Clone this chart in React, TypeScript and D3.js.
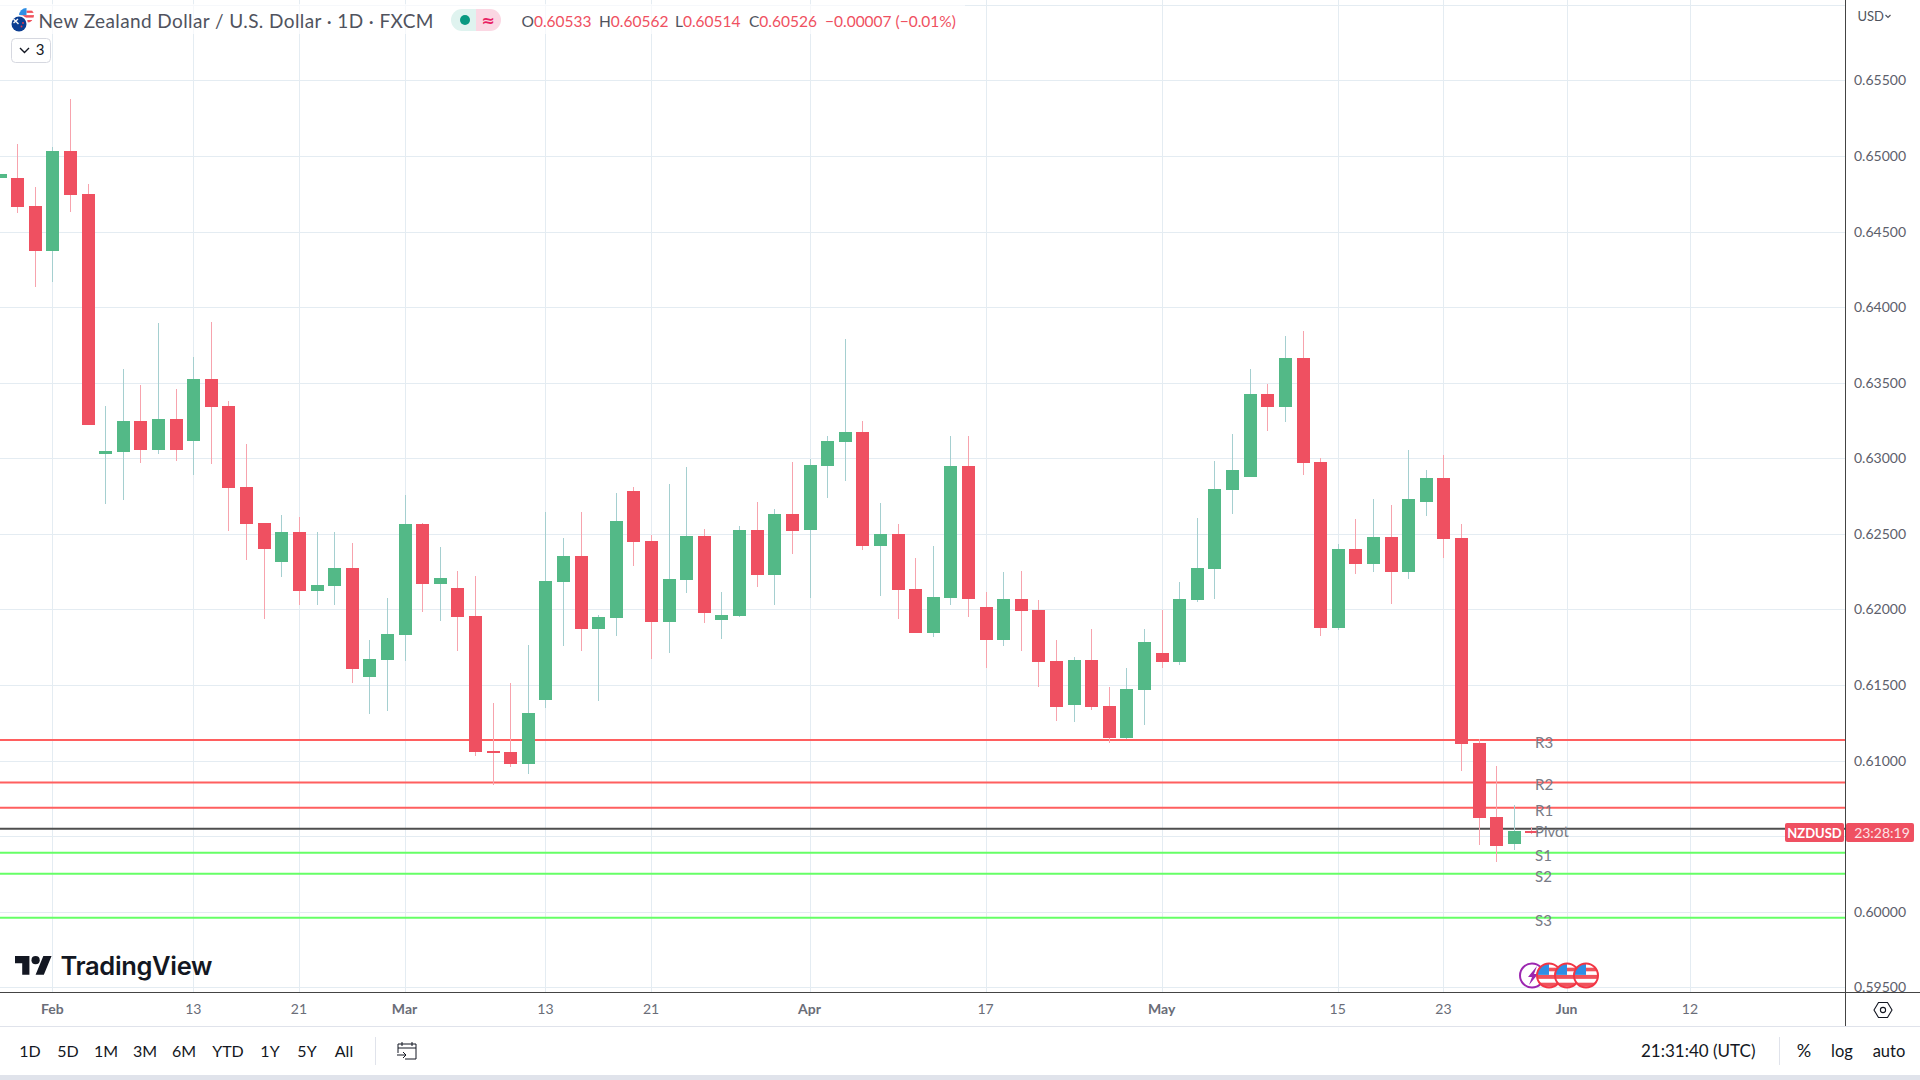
import { useEffect, useRef } from "react"
import * as d3 from "d3"

// bar index 0 is 1 Feb, one step per trading day
const firstBar = -3
const opens = [
  0.64857, 0.64855, 0.6467, 0.64372, 0.65034, 0.64749, 0.63029, 0.63043, 0.63248, 0.63056, 0.63261, 0.63115, 0.63525,
  0.63347, 0.62811, 0.62573, 0.62315, 0.62513, 0.62123, 0.62156, 0.62275, 0.61554, 0.61667, 0.61832, 0.62566, 0.62169,
  0.62143, 0.61958, 0.61065, 0.61058, 0.60979, 0.61402, 0.62183, 0.62355, 0.61872, 0.61944, 0.62785, 0.62454, 0.61918,
  0.62196, 0.62487, 0.61931, 0.61958, 0.62527, 0.62229, 0.62632, 0.62527, 0.6295, 0.63109, 0.63175, 0.62421, 0.625,
  0.62136, 0.61845, 0.62077, 0.6295, 0.62017, 0.61799, 0.6207, 0.61997, 0.6166, 0.61369, 0.61667, 0.61362, 0.61151,
  0.61468, 0.61713, 0.61653, 0.62063, 0.62268, 0.62791, 0.62877, 0.63426, 0.6334, 0.63664, 0.62976, 0.61878, 0.62401,
  0.62302, 0.6248, 0.62249, 0.62712, 0.6287, 0.62474, 0.61117, 0.60628, 0.60449, 0.60533,
]
const highs = [
  0.64882, 0.6508, 0.64795, 0.6506, 0.65378, 0.64815, 0.63347, 0.63592, 0.63486, 0.63896, 0.63459, 0.63669, 0.63902,
  0.6338, 0.63095, 0.62573, 0.62626, 0.62612, 0.62513, 0.62513, 0.6244, 0.61799, 0.62077, 0.62758, 0.62573, 0.62414,
  0.62255, 0.62222, 0.61382, 0.61514, 0.61766, 0.62646, 0.62474, 0.62646, 0.61964, 0.62771, 0.62811, 0.62493, 0.62831,
  0.62943, 0.62533, 0.62116, 0.62553, 0.62712, 0.62665, 0.62976, 0.62996, 0.63148, 0.6379, 0.63248, 0.62705, 0.62566,
  0.62341, 0.62421, 0.63148, 0.63148, 0.62116, 0.62249, 0.62255, 0.62063, 0.61799, 0.61686, 0.61872, 0.61488, 0.61614,
  0.61872, 0.61997, 0.62183, 0.62606, 0.62983, 0.63162, 0.63592, 0.63492, 0.6381, 0.63843, 0.63001, 0.62434, 0.62599,
  0.62732, 0.62692, 0.63056, 0.62923, 0.63023, 0.62566, 0.61144, 0.60965, 0.60707, 0.60562,
]
const lows = [
  0.64857, 0.64626, 0.64134, 0.64167, 0.6463, 0.63221, 0.62698, 0.62725, 0.6297, 0.63029, 0.62983, 0.6289, 0.62963,
  0.6252, 0.62328, 0.61938, 0.62216, 0.6203, 0.6203, 0.6203, 0.61514, 0.61309, 0.61329, 0.6166, 0.61984, 0.61925,
  0.61726, 0.61032, 0.6084, 0.60959, 0.60912, 0.61349, 0.61759, 0.61726, 0.61395, 0.61825, 0.62288, 0.61673, 0.61713,
  0.6211, 0.61911, 0.61806, 0.61951, 0.62149, 0.6203, 0.62368, 0.62077, 0.62738, 0.62851, 0.62394, 0.6209, 0.61938,
  0.61845, 0.61819, 0.6203, 0.61951, 0.61614, 0.61759, 0.61726, 0.61488, 0.61263, 0.61256, 0.61336, 0.61117, 0.61144,
  0.61237, 0.61614, 0.61633, 0.6205, 0.6207, 0.62632, 0.62877, 0.63181, 0.63241, 0.6289, 0.61825, 0.61865, 0.62236,
  0.62249, 0.62037, 0.62202, 0.62619, 0.62341, 0.60932, 0.60443, 0.6033, 0.6041, 0.60514,
]
const closes = [
  0.64882, 0.64663, 0.64372, 0.65034, 0.64743, 0.63221, 0.63049, 0.63248, 0.63056, 0.63261, 0.63056, 0.63525, 0.6334,
  0.62804, 0.62566, 0.62401, 0.62513, 0.62123, 0.62163, 0.62275, 0.61607, 0.61673, 0.61839, 0.62566, 0.62169, 0.62209,
  0.61951, 0.61058, 0.61051, 0.60979, 0.61316, 0.62189, 0.62355, 0.61872, 0.61951, 0.62586, 0.62447, 0.61918, 0.62202,
  0.62487, 0.61977, 0.61964, 0.62527, 0.62229, 0.62632, 0.6252, 0.62956, 0.63115, 0.63175, 0.62421, 0.625, 0.6213,
  0.61845, 0.62083, 0.6295, 0.6207, 0.61799, 0.6207, 0.61991, 0.61653, 0.61356, 0.61667, 0.61356, 0.61151, 0.61475,
  0.61786, 0.61653, 0.6207, 0.62275, 0.62798, 0.62923, 0.63426, 0.6334, 0.63664, 0.6297, 0.61878, 0.62401, 0.62302,
  0.6248, 0.62249, 0.62732, 0.6287, 0.62467, 0.61111, 0.60621, 0.60436, 0.60535, 0.60526,
]

const levelNames = ["R3", "R2", "R1", "Pivot", "S1", "S2", "S3"]
const levelValues = [0.61137, 0.60855, 0.60688, 0.60549, 0.6039, 0.60251, 0.5996]
const levelColors = ["#ff5f5f", "#ff5f5f", "#ff5f5f", "#4f4f4f", "#66ff66", "#66ff66", "#66ff66"]

const priceTicks = [0.595, 0.6, 0.605, 0.61, 0.615, 0.62, 0.625, 0.63, 0.635, 0.64, 0.645, 0.65, 0.655, 0.66]
const priceLabelTicks = priceTicks.filter((p) => p !== 0.605 && p !== 0.66)
const timeTickBars = [0, 8, 14, 20, 28, 34, 43, 53, 63, 73, 79, 86, 93]
const timeTickLabels = ["Feb", "13", "21", "Mar", "13", "21", "Apr", "17", "May", "15", "23", "Jun", "12"]
const monthLabels = ["Feb", "Mar", "Apr", "May", "Jun"]

const rangeLabels = ["1D", "5D", "1M", "3M", "6M", "YTD", "1Y", "5Y", "All"]
const rangeCenters = [30, 68, 106, 145, 184, 228, 270, 307, 344]
const ohlcLabels = ["O", "H", "L", "C"]
const ohlcValues = ["0.60533", "0.60562", "0.60514", "0.60526"]
const ohlcStarts = [521.5, 599, 675, 749]

const red = "#ef5061"
const green = "#53b987"
const font = "Lato, 'Open Sans', sans-serif"

export default function App() {
  const svgRef = useRef<SVGSVGElement>(null)

  useEffect(() => {
    if (!svgRef.current) return
    const svg = d3.select(svgRef.current)
    svg.selectAll("*").remove()

    const width = 1920
    const height = 1080
    const axisX = 1845
    const axisY = 992

    const x = d3.scaleLinear().domain([0, 93]).range([52.4, 1689.9])
    const y = d3.scaleLinear().domain([0.595, 0.655]).range([987.4, 80.4])

    svg.append("rect").attr("width", width).attr("height", height).attr("fill", "#fff")

    const defs = svg.append("defs")
    defs.append("clipPath").attr("id", "plot").append("rect").attr("width", axisX).attr("height", axisY)

    // Grid
    const grid = svg.append("g").attr("shape-rendering", "crispEdges").attr("stroke", "#e4ecf2")
    priceTicks.forEach((p) => {
      grid.append("line").attr("x1", 0).attr("x2", axisX).attr("y1", Math.round(y(p)) + 0.5).attr("y2", Math.round(y(p)) + 0.5)
    })
    timeTickBars.forEach((b) => {
      grid.append("line").attr("x1", Math.round(x(b)) + 0.5).attr("x2", Math.round(x(b)) + 0.5).attr("y1", 0).attr("y2", axisY)
    })

    // Pivot levels sit under the candles
    const plot = svg.append("g").attr("clip-path", "url(#plot)")
    levelValues.forEach((v, i) => {
      plot
        .append("line")
        .attr("x1", 0)
        .attr("x2", axisX)
        .attr("y1", y(v))
        .attr("y2", y(v))
        .attr("stroke", levelColors[i])
        .attr("stroke-width", 2)
    })

    // Candles
    const candles = plot.append("g").attr("shape-rendering", "crispEdges")
    opens.forEach((open, i) => {
      const cx = Math.round(x(firstBar + i))
      const up = closes[i] >= open
      const top = Math.round(y(Math.max(open, closes[i])))
      const bottom = Math.round(y(Math.min(open, closes[i])))
      candles
        .append("rect")
        .attr("x", cx)
        .attr("width", 1)
        .attr("y", Math.round(y(highs[i])))
        .attr("height", Math.round(y(lows[i])) - Math.round(y(highs[i])))
        .attr("fill", up ? "#a5cfd0" : "#f7a3ad")
      candles
        .append("rect")
        .attr("x", cx - 6)
        .attr("width", 13)
        .attr("y", top)
        .attr("height", Math.max(2, bottom - top))
        .attr("fill", up ? green : red)
    })

    // Level names
    levelNames.forEach((name, i) => {
      plot
        .append("text")
        .attr("x", 1535)
        .attr("y", y(levelValues[i]) + 2.5)
        .attr("dy", "0.35em")
        .attr("font-family", font)
        .attr("font-size", 15)
        .attr("fill", "#787b86")
        .text(name)
    })

    // Header backing fades the grid behind the legend
    svg.append("rect").attr("x", 0).attr("y", 4).attr("width", 965).attr("height", 30).attr("fill", "#fff").attr("opacity", 0.65)

    // Price axis
    const priceAxis = d3
      .axisRight(y)
      .tickValues(priceLabelTicks)
      .tickSize(0)
      .tickPadding(9)
      .tickFormat((d) => (d as number).toFixed(5))
    const priceG = svg.append("g").attr("transform", `translate(${axisX},0)`).call(priceAxis)
    priceG.select(".domain").remove()
    priceG.selectAll("text").attr("font-family", font).attr("font-size", 14).attr("fill", "#5d606b")

    // Time axis
    svg.append("rect").attr("x", 0).attr("y", axisY + 1).attr("width", width).attr("height", 88).attr("fill", "#fff")
    const timeAxis = d3
      .axisBottom(x)
      .tickValues(timeTickBars)
      .tickSize(0)
      .tickPadding(12)
      .tickFormat((_, i) => timeTickLabels[i])
    const timeG = svg.append("g").attr("transform", `translate(-0.5,${axisY})`).call(timeAxis)
    timeG.select(".domain").remove()
    timeG
      .selectAll("text")
      .attr("font-family", font)
      .attr("font-size", 14)
      .attr("fill", "#6a6d78")
      .attr("font-weight", (_, i) => (monthLabels.includes(timeTickLabels[i]) ? 700 : 400))

    // Axis frame
    const frame = svg.append("g").attr("stroke", "#444").attr("shape-rendering", "crispEdges")
    frame.append("line").attr("x1", 0).attr("x2", width).attr("y1", axisY + 0.5).attr("y2", axisY + 0.5)
    frame.append("line").attr("x1", axisX + 0.5).attr("x2", axisX + 0.5).attr("y1", 0).attr("y2", 1026)

    // Current price tags
    svg.append("rect").attr("x", 1785).attr("y", 823).attr("width", 59).attr("height", 19).attr("rx", 2).attr("fill", red)
    svg.append("rect").attr("x", 1846).attr("y", 823).attr("width", 68).attr("height", 19).attr("rx", 2).attr("fill", red)
    svg
      .append("text")
      .attr("x", 1814.5)
      .attr("y", 833)
      .attr("dy", "0.35em")
      .attr("text-anchor", "middle")
      .attr("font-family", font)
      .attr("font-weight", 700)
      .attr("font-size", 13)
      .attr("fill", "#fff")
      .text("NZDUSD")
    svg
      .append("text")
      .attr("x", 1882)
      .attr("y", 833)
      .attr("dy", "0.35em")
      .attr("text-anchor", "middle")
      .attr("font-family", font)
      .attr("font-size", 14)
      .attr("fill", "#fde3e6")
      .text("23:28:19")

    // USD selector
    svg
      .append("text")
      .attr("x", 1857.5)
      .attr("y", 16)
      .attr("dy", "0.35em")
      .attr("font-family", font)
      .attr("font-size", 13)
      .attr("fill", "#50535e")
      .text("USD")
    svg
      .append("path")
      .attr("d", "M1885.5 15l2.5 2.5 2.5-2.5")
      .attr("fill", "none")
      .attr("stroke", "#50535e")
      .attr("stroke-width", 1.2)

    // Settings hexagon
    svg
      .append("path")
      .attr("d", "M1874 1010l4.5-7.5h9l4.5 7.5-4.5 7.5h-9z")
      .attr("fill", "none")
      .attr("stroke", "#131722")
      .attr("stroke-width", 1.1)
    svg.append("circle").attr("cx", 1883).attr("cy", 1010).attr("r", 2.6).attr("fill", "none").attr("stroke", "#131722").attr("stroke-width", 1.1)

    // Legend line
    const drawUsFlag = (cx: number, cy: number, r: number, id: string, stroke?: string) => {
      defs.append("clipPath").attr("id", id).append("circle").attr("cx", cx).attr("cy", cy).attr("r", r)
      const g = svg.append("g")
      g.append("circle").attr("cx", cx).attr("cy", cy).attr("r", r).attr("fill", "#fff")
      const f = g.append("g").attr("clip-path", `url(#${id})`)
      f.append("rect").attr("x", cx - r).attr("y", cy - r * 0.05).attr("width", r * 2).attr("height", r * 0.33).attr("fill", "#f0525c")
      f.append("rect").attr("x", cx - r).attr("y", cy + r * 0.6).attr("width", r * 2).attr("height", r * 0.33).attr("fill", "#f0525c")
      f.append("rect").attr("x", cx).attr("y", cy - r * 0.65).attr("width", r).attr("height", r * 0.3).attr("fill", "#f0525c")
      f.append("rect").attr("x", cx - r).attr("y", cy - r).attr("width", r).attr("height", r * 0.95).attr("fill", "#2f8ee5")
      if (stroke) {
        g.append("circle").attr("cx", cx).attr("cy", cy).attr("r", r).attr("fill", "none").attr("stroke", stroke).attr("stroke-width", 2)
      }
    }

    drawUsFlag(26.5, 15.5, 7.5, "flag-usd")
    svg.append("circle").attr("cx", 19.5).attr("cy", 23.5).attr("r", 8.5).attr("fill", "#fff")
    svg.append("circle").attr("cx", 19).attr("cy", 24).attr("r", 7.5).attr("fill", "#0b3d91")
    svg.append("path").attr("d", "M13.5 19l5 5M18 19l-4.5 4").attr("stroke", "#f5f5f5").attr("stroke-width", 1.4)
    svg.append("circle").attr("cx", 23).attr("cy", 23).attr("r", 0.9).attr("fill", "#f23645")
    svg.append("circle").attr("cx", 21.5).attr("cy", 26.5).attr("r", 0.9).attr("fill", "#f23645")

    svg
      .append("text")
      .attr("x", 38.5)
      .attr("y", 21.5)
      .attr("dy", "0.35em")
      .attr("font-family", font)
      .attr("font-size", 19)
      .attr("letter-spacing", 0.4)
      .attr("fill", "#50535e")
      .text("New Zealand Dollar / U.S. Dollar · 1D · FXCM")

    // Market status pill
    svg.append("path").attr("d", "M476 9h-14a11 11 0 0 0 0 22h14z").attr("fill", "#dff3ef")
    svg.append("path").attr("d", "M476 9h14a11 11 0 0 1 0 22h-14z").attr("fill", "#fbd7e3")
    svg.append("circle").attr("cx", 465).attr("cy", 20).attr("r", 5).attr("fill", "#089981")
    svg
      .append("text")
      .attr("x", 488)
      .attr("y", 20)
      .attr("dy", "0.35em")
      .attr("text-anchor", "middle")
      .attr("font-family", "'DejaVu Sans', sans-serif")
      .attr("font-weight", 700)
      .attr("font-size", 16)
      .attr("fill", "#e91e63")
      .text("≈")

    ohlcLabels.forEach((label, i) => {
      const t = svg
        .append("text")
        .attr("x", ohlcStarts[i])
        .attr("y", 22)
        .attr("dy", "0.35em")
        .attr("font-family", font)
        .attr("font-size", 15.5)
        .attr("fill", red)
      t.append("tspan").attr("fill", "#50535e").text(label)
      t.append("tspan").text(ohlcValues[i])
    })
    svg
      .append("text")
      .attr("x", 825)
      .attr("y", 22)
      .attr("dy", "0.35em")
      .attr("font-family", font)
      .attr("font-size", 15.5)
      .attr("fill", red)
      .text("−0.00007 (−0.01%)")

    // Indicator count button
    svg.append("rect").attr("x", 11.5).attr("y", 38.5).attr("width", 39).attr("height", 24).attr("rx", 4).attr("fill", "#fff").attr("stroke", "#d6d8e0")
    svg.append("path").attr("d", "M20 48l4.5 4.5 4.5-4.5").attr("fill", "none").attr("stroke", "#131722").attr("stroke-width", 1.4)
    svg
      .append("text")
      .attr("x", 40)
      .attr("y", 50)
      .attr("dy", "0.35em")
      .attr("text-anchor", "middle")
      .attr("font-family", font)
      .attr("font-size", 15)
      .attr("fill", "#131722")
      .text("3")

    // TradingView watermark
    const logo = svg.append("g").attr("transform", "translate(15,952) scale(1.03)").attr("fill", "#131722")
    logo.append("path").attr("d", "M14 22H7V11H0V4h14v18zM28 22h-8l7.5-18h8L28 22z")
    logo.append("circle").attr("cx", 20).attr("cy", 8).attr("r", 4)
    svg
      .append("text")
      .attr("x", 60.5)
      .attr("y", 966)
      .attr("dy", "0.35em")
      .attr("font-family", "Inter, Roboto, sans-serif")
      .attr("font-weight", 600)
      .attr("font-size", 25.5)
      .attr("letter-spacing", -0.35)
      .attr("fill", "#131722")
      .text("TradingView")

    // Event markers
    svg.append("circle").attr("cx", 1532).attr("cy", 975.5).attr("r", 12).attr("fill", "#fff").attr("stroke", "#9c27b0").attr("stroke-width", 2)
    svg.append("path").attr("d", "M1537 966l-9 11h4l-3 8 9-11h-4z").attr("fill", "#9c27b0")
    drawUsFlag(1549, 975.5, 12, "event-1", "#f23645")
    drawUsFlag(1567, 975.5, 12, "event-2", "#f23645")
    drawUsFlag(1586, 975.5, 12, "event-3", "#f23645")

    // Bottom toolbar
    svg.append("line").attr("x1", 0).attr("x2", width).attr("y1", 1026.5).attr("y2", 1026.5).attr("stroke", "#e0e3eb").attr("shape-rendering", "crispEdges")
    svg.append("rect").attr("x", 0).attr("y", 1075).attr("width", width).attr("height", 5).attr("fill", "#e0e3eb")
    rangeLabels.forEach((label, i) => {
      svg
        .append("text")
        .attr("x", rangeCenters[i])
        .attr("y", 1051)
        .attr("dy", "0.35em")
        .attr("text-anchor", "middle")
        .attr("font-family", font)
        .attr("font-size", 16)
        .attr("fill", "#131722")
        .text(label)
    })
    svg.append("line").attr("x1", 375.5).attr("x2", 375.5).attr("y1", 1037).attr("y2", 1065).attr("stroke", "#e0e3eb")
    svg
      .append("path")
      .attr("d", "M398 1053v-9h18v15h-11M402 1042v4M412 1042v4M398 1048h18M397 1055h9M403 1052l3 3-3 3")
      .attr("fill", "none")
      .attr("stroke", "#131722")
      .attr("stroke-width", 1)

    svg
      .append("text")
      .attr("x", 1641)
      .attr("y", 1051)
      .attr("dy", "0.35em")
      .attr("font-family", font)
      .attr("font-size", 17)
      .attr("fill", "#131722")
      .text("21:31:40 (UTC)")
    svg.append("line").attr("x1", 1779.5).attr("x2", 1779.5).attr("y1", 1037).attr("y2", 1065).attr("stroke", "#e0e3eb")
    ;[
      { label: "%", cx: 1804, size: 18 },
      { label: "log", cx: 1842, size: 16.5 },
      { label: "auto", cx: 1889, size: 16.5 },
    ].forEach((d) => {
      svg
        .append("text")
        .attr("x", d.cx)
        .attr("y", 1051)
        .attr("dy", "0.35em")
        .attr("text-anchor", "middle")
        .attr("font-family", font)
        .attr("font-size", d.size)
        .attr("fill", "#131722")
        .text(d.label)
    })
  }, [])

  return (
    <>
      <style>{"body{margin:0;background:#fff}"}</style>
      <svg ref={svgRef} width={1920} height={1080} style={{ display: "block" }} />
    </>
  )
}
